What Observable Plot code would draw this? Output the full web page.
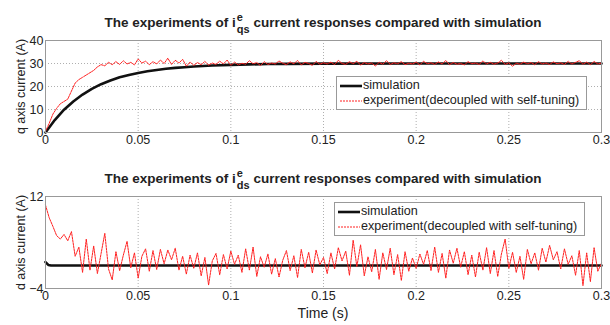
<!DOCTYPE html>
<html>
<head>
<meta charset="utf-8">
<script src="https://cdn.jsdelivr.net/npm/d3@7"></script>
<script src="https://cdn.jsdelivr.net/npm/@observablehq/plot@0.6"></script>
<style>
  body { margin: 0; background: #fff; }
  #wrap { position: relative; width: 610px; height: 325px; background: #fff; font-family: "Liberation Sans", Arial, sans-serif; color: #222; overflow: hidden; }
  .plot { position: absolute; left: 0; }
  .title { position: absolute; left: 45px; width: 556px; text-align: center; font-weight: bold; font-size: 13.5px; line-height: 15px; white-space: nowrap; }
  .ss { display: inline-block; vertical-align: middle; line-height: 12px; font-size: 11px; text-align: left; margin-left: 1px; }
  .ss span { display: block; }
  .legend { position: absolute; width: 251px; border: 1px solid #999; background: #fff; box-sizing: border-box; font-size: 12.6px; }
  .legend .row { height: 15px; line-height: 15px; display: flex; align-items: center; white-space: nowrap; }
  .legend svg { margin: 0 1px 0 3px; }
  .xlabel { position: absolute; left: 45px; width: 556px; text-align: center; font-size: 14px; }
</style>
</head>
<body>
<div id="wrap"></div>
<script>
// ---------- data ----------
const tStep = 0.002;            // sampling interval of the experiment traces (s)
const xTicks = [0, 0.05, 0.1, 0.15, 0.2, 0.25, 0.3];
const xTickLabels = ["0", "0.05", "0.1", "0.15", "0.2", "0.25", "0.3"];
const qTicks = [0, 10, 20, 30, 40];
const dTicks = [-4, 12];
const seriesNames = ["simulation", "experiment(decoupled with self-tuning)"];

// q-axis simulation
const qSimT = [0, 0.005, 0.01, 0.015, 0.02, 0.025, 0.03, 0.035, 0.04, 0.045, 0.05, 0.055, 0.06, 0.065, 0.07, 0.075, 0.08, 0.085, 0.09, 0.1, 0.11, 0.12, 0.13, 0.15, 0.2, 0.3];
const qSimV = [0, 5.4, 9.9, 13.5, 16.5, 19, 21, 22.6, 24, 25, 25.9, 26.6, 27.2, 27.7, 28.1, 28.4, 28.7, 28.9, 29.1, 29.4, 29.6, 29.75, 29.85, 29.95, 30, 30];

// q-axis experiment (red dashed), one value every tStep
const qExpV = [0.5,4,8,10.5,12.5,13.5,14.5,18,21.5,23,24,25,26,27,28.5,29.5,29,30.5,29.5,30.8,
  29.6,31.2,29.8,30.5,29.4,32,30.2,31,29.5,30.8,29.8,31.5,30,32.3,29.6,31.4,30.2,31.8,28.8,30.6,
  29.2,30.4,29.5,30.9,29.3,30.2,29.6,31,29.8,31.5,
  29.2,30.6,29.4,30.1,29.7,31.2,29.9,30.4,29.1,30.8,29.6,30.2,29.8,31.1,30.1,29.5,30.7,29.9,31.3,29.4,
  30.5,30.0,29.2,30.9,29.7,30.3,29.8,30.6,29.5,31.4,
  30.0,29.6,30.8,29.9,31.0,29.3,30.4,29.8,30.2,28.9,30.5,29.7,31.2,29.6,30.3,29.9,30.8,29.5,30.1,29.8,
  30.6,29.4,31.0,29.9,30.3,29.6,30.7,29.8,31.3,29.5,30.4,29.7,30.0,29.4,30.8,29.9,30.2,29.6,31.1,29.8,
  30.5,29.7,30.2,31.4,29.6,30.3,28.8,30.1,29.7,30.6,29.9,30.4,29.5,30.8,29.8,30.2,29.6,30.7,29.9,30.3,
  29.6,30.9,29.8,30.5,31.2,29.7,30.6,29.5,30.9,29.8,30.2];

// d-axis simulation
const dSimT = [0, 0.0015, 0.003, 0.3];
const dSimV = [0.6, 0.1, 0, 0];

// d-axis experiment, one value every tStep
const dExpV = [10.5,8.3,6.8,5.2,4.6,5.4,4.3,5.9,1.6,3.2,-1.2,4.6,-0.8,3.4,-1.4,2.1,5.6,-0.6,-2.5,2.4,
  -0.9,1.8,4.2,-0.4,2.2,-2.2,1.6,2.9,-1.0,2.6,-0.7,2.8,0.3,2.7,1.0,3.0,-0.8,1.6,-1.5,1.8,
  -0.5,2.2,-1.8,1.4,-3.4,0.8,2.1,-1.6,1.9,-0.6,2.5,0.2,1.8,-1.2,2.9,-0.8,3.2,-1.9,1.5,-0.3,
  2.0,-1.5,1.2,-2.0,0.9,2.6,-0.9,1.7,-2.1,2.8,-0.4,2.3,-1.3,2.7,0.1,1.4,-1.4,2.2,-0.6,3.1,
  0.8,2.5,-1.7,4.4,-0.2,3.6,-1.8,1.5,-1.1,2.8,-2.4,2.2,-0.7,3.0,-1.6,1.9,-2.6,2.4,-1.0,1.3,
  -0.5,2.0,0.2,2.6,-0.9,3.2,-1.2,2.1,-2.2,2.7,0.4,3.0,-0.3,2.4,-1.6,1.8,-2.0,2.3,-0.8,3.1,
  -1.4,2.6,-1.9,2.0,4.6,-0.5,2.3,-1.2,1.6,-2.4,2.8,0.3,2.2,-0.8,3.0,0.6,3.5,1.0,2.4,-0.6,
  2.9,0.2,1.7,-1.7,2.6,-3.5,2.2,-2.8,3.1,-1.0,0.4];

// ---------- build tables ----------
const qSim = qSimT.map((t, i) => ({t, v: qSimV[i]}));
const qExp = qExpV.map((v, i) => ({t: i * tStep, v}));
const dSim = dSimT.map((t, i) => ({t, v: dSimV[i]}));
const dExp = dExpV.map((v, i) => ({t: i * tStep, v}));

const RED = "#ff2020";
const GRID = {stroke: "#9a9a9a", strokeOpacity: 1, strokeDasharray: "1,2", strokeWidth: 0.8};
const fmtX = d => xTickLabels[xTicks.indexOf(d)];

function panel({yDomain, yTicks, yLabel, sim, exp, gridY}) {
  return Plot.plot({
    width: 610, height: 120,
    marginLeft: 45, marginRight: 9, marginTop: 10, marginBottom: 18,
    style: {fontFamily: '"Liberation Sans", Arial, sans-serif', fontSize: "13px", color: "#222", background: "transparent"},
    x: {domain: [0, 0.3]},
    y: {domain: yDomain},
    marks: [
      Plot.gridX(xTicks.slice(1, -1), GRID),
      gridY ? Plot.gridY(yTicks.slice(1, -1), GRID) : null,
      Plot.axisX(xTicks, {tickSize: 0, tickPadding: 3, tickFormat: fmtX, label: null, fontSize: 12.5}),
      Plot.axisY(yTicks, {tickSize: 0, tickPadding: 2, label: yLabel, labelAnchor: "center", labelOffset: 29, labelArrow: "none", fontSize: 12.5}),
      Plot.line(sim, {x: "t", y: "v", stroke: "#111", strokeWidth: 2.6}),
      Plot.line(exp, {x: "t", y: "v", stroke: RED, strokeWidth: 1, strokeDasharray: "2,1"}),
      Plot.frame({stroke: "#999", strokeWidth: 1})
    ]
  });
}

const wrap = document.getElementById("wrap");

function addTitle(top, sub) {
  const d = document.createElement("div");
  d.className = "title";
  d.style.top = top + "px";
  d.innerHTML = 'The experiments of i<span class="ss"><span>e</span><span>' + sub + '</span></span> current responses compared with simulation';
  wrap.appendChild(d);
}

function addLegend(left, top) {
  const d = document.createElement("div");
  d.className = "legend";
  d.style.left = left + "px";
  d.style.top = top + "px";
  d.style.padding = "1px 0";
  d.innerHTML =
    '<div class="row"><svg width="22" height="6"><line x1="0" y1="3" x2="22" y2="3" stroke="#111" stroke-width="2.6"/></svg>' + seriesNames[0] + '</div>' +
    '<div class="row"><svg width="22" height="6"><line x1="0" y1="3" x2="22" y2="3" stroke="' + RED + '" stroke-width="1" stroke-dasharray="2,1"/></svg>' + seriesNames[1] + '</div>';
  wrap.appendChild(d);
}

const top1 = panel({yDomain: [0, 40], yTicks: qTicks, yLabel: "q axis current (A)", sim: qSim, exp: qExp, gridY: true});
top1.classList.add("plot");
top1.style.top = "30px";
wrap.appendChild(top1);

const top2 = panel({yDomain: [-4, 12], yTicks: dTicks, yLabel: "d axis current (A)", sim: dSim, exp: dExp, gridY: false});
top2.classList.add("plot");
top2.style.top = "186px";
wrap.appendChild(top2);

addTitle(11, "qs");
addTitle(167, "ds");
addLegend(336, 76);
addLegend(334, 202);

const xl = document.createElement("div");
xl.className = "xlabel";
xl.style.top = "305px";
xl.textContent = "Time (s)";
wrap.appendChild(xl);
</script>
</body>
</html>
